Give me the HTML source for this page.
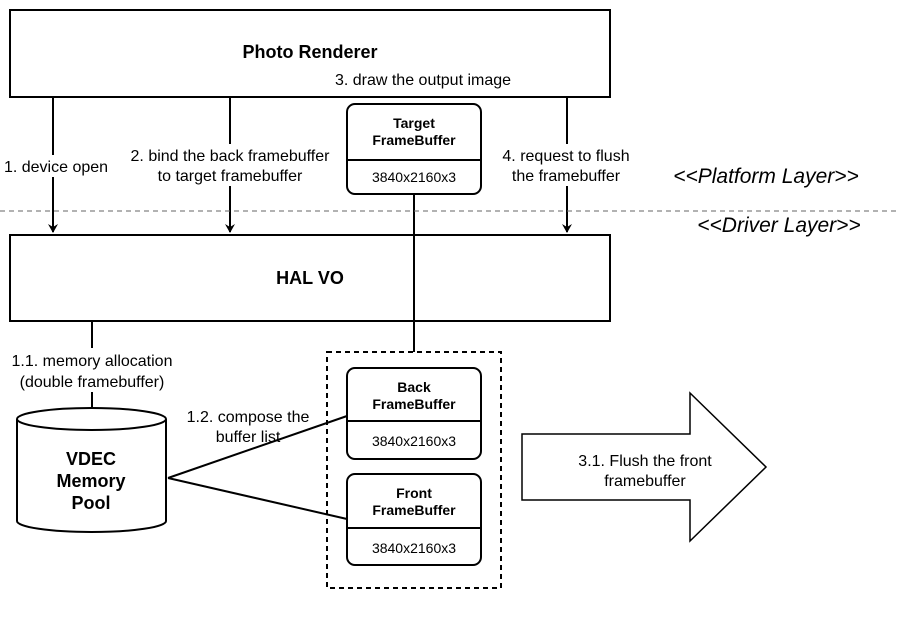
<!DOCTYPE html><html><head><style>body{margin:0;background:#fff}text{font-family:"Liberation Sans",Arial,sans-serif}</style></head><body>
<svg width="921" height="619" xmlns="http://www.w3.org/2000/svg">
<defs><marker id="a" markerWidth="10" markerHeight="10" refX="8" refY="5" orient="auto" markerUnits="userSpaceOnUse"><path d="M0,0 L9,5 L0,10 L3,5 Z" fill="#000"/></marker></defs>
<g fill="none" stroke="#000" stroke-width="2">
<rect x="10" y="10" width="600" height="87"/>
<rect x="10" y="235" width="600" height="86"/>
<line x1="53" y1="97" x2="53" y2="232" marker-end="url(#a)"/>
<line x1="230" y1="97" x2="230" y2="232" marker-end="url(#a)"/>
<line x1="567" y1="97" x2="567" y2="232" marker-end="url(#a)"/>
<line x1="414" y1="194" x2="414" y2="352"/>
<line x1="92" y1="321" x2="92" y2="420" marker-end="url(#a)"/>
<line x1="168" y1="478" x2="347" y2="416"/>
<line x1="168" y1="478" x2="347" y2="519"/>
<rect x="327" y="352" width="174" height="236" stroke-dasharray="5,4"/>
<rect x="347" y="104" width="134" height="90" rx="8" fill="#fff"/>
<line x1="347" y1="160" x2="481" y2="160"/>
<rect x="347" y="368" width="134" height="91" rx="8" fill="#fff"/>
<line x1="347" y1="421" x2="481" y2="421"/>
<rect x="347" y="474" width="134" height="91" rx="8" fill="#fff"/>
<line x1="347" y1="528" x2="481" y2="528"/>
<path d="M17,419 L17,521 A74.5,11 0 0 0 166,521 L166,419 A74.5,11 0 0 0 17,419 A74.5,11 0 0 0 166,419" fill="#fff"/>
<path d="M522,434 L690,434 L690,393 L766,467 L690,541 L690,500 L522,500 Z" stroke-width="1.5"/>
</g>
<line x1="0" y1="211" x2="900" y2="211" stroke="#666" stroke-width="1" stroke-dasharray="5,4"/>
<rect x="0" y="155" width="112" height="22" fill="#fff"/>
<rect x="118" y="144" width="224" height="42" fill="#fff"/>
<rect x="494" y="144" width="146" height="42" fill="#fff"/>
<rect x="4" y="348" width="178" height="44" fill="#fff"/>
<g font-size="16" fill="#000">
<text x="310" y="58" text-anchor="middle" font-weight="bold" font-size="18">Photo Renderer</text>
<text x="310" y="284" text-anchor="middle" font-weight="bold" font-size="18">HAL VO</text>
<text x="423" y="85" text-anchor="middle">3. draw the output image</text>
<text x="56" y="172" text-anchor="middle">1. device open</text>
<text x="230" y="161" text-anchor="middle">2. bind the back framebuffer</text>
<text x="230" y="181" text-anchor="middle">to target framebuffer</text>
<text x="566" y="161" text-anchor="middle">4. request to flush</text>
<text x="566" y="181" text-anchor="middle">the framebuffer</text>
<text x="92" y="366" text-anchor="middle">1.1. memory allocation</text>
<text x="92" y="387" text-anchor="middle">(double framebuffer)</text>
<text x="248" y="422" text-anchor="middle">1.2. compose the</text>
<text x="248" y="442" text-anchor="middle">buffer list</text>
<text x="645" y="466" text-anchor="middle">3.1. Flush the front</text>
<text x="645" y="486" text-anchor="middle">framebuffer</text>
<text x="91" y="465" text-anchor="middle" font-weight="bold" font-size="18">VDEC</text>
<text x="91" y="487" text-anchor="middle" font-weight="bold" font-size="18">Memory</text>
<text x="91" y="509" text-anchor="middle" font-weight="bold" font-size="18">Pool</text>
<text x="766" y="183" text-anchor="middle" font-style="italic" font-size="21">&lt;&lt;Platform Layer&gt;&gt;</text>
<text x="779" y="232" text-anchor="middle" font-style="italic" font-size="21">&lt;&lt;Driver Layer&gt;&gt;</text>
</g>
<g font-size="14" text-anchor="middle" fill="#000">
<text x="414" y="128" font-weight="bold">Target</text>
<text x="414" y="145" font-weight="bold">FrameBuffer</text>
<text x="414" y="182">3840x2160x3</text>
<text x="414" y="392" font-weight="bold">Back</text>
<text x="414" y="409" font-weight="bold">FrameBuffer</text>
<text x="414" y="446">3840x2160x3</text>
<text x="414" y="498" font-weight="bold">Front</text>
<text x="414" y="515" font-weight="bold">FrameBuffer</text>
<text x="414" y="553">3840x2160x3</text>
</g>
</svg></body></html>
